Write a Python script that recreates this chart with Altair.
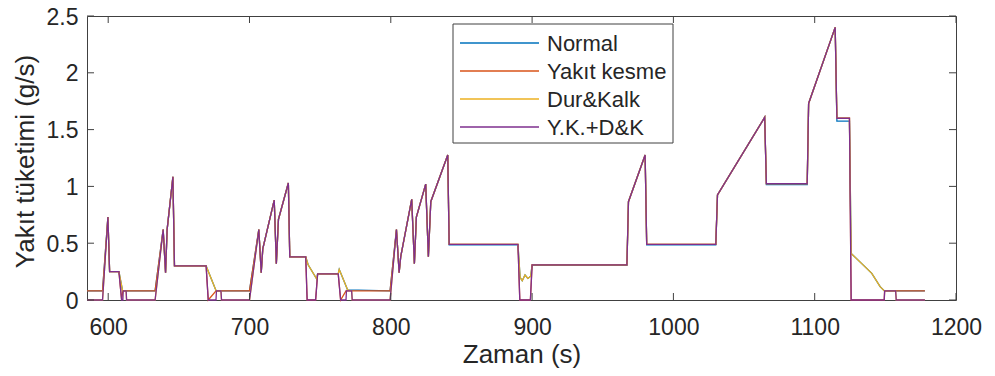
import altair as alt
import pandas as pd

names = ["Normal", "Yakıt kesme", "Dur&Kalk", "Y.K.+D&K"]
colors = ["#0072BD", "#D95319", "#EDB120", "#7E2F8E"]
x_ticks = [600, 700, 800, 900, 1000, 1100, 1200]
y_ticks = [0, 0.5, 1, 1.5, 2, 2.5]

# Normal
t_normal = [585, 596, 599.8, 601, 607.6, 610.2, 633.2, 638.9, 640.6, 641.7, 645.8, 646.9, 669.3, 676.4,
            700, 706.6, 708.3, 709.4, 717.5, 719.0, 720.5, 727.5, 728.5, 739.8, 741.5, 747.8, 748.2, 762.8,
            763.5, 769.4, 799.5, 804, 805.9, 807, 814.8, 816.7, 818.1, 824.7, 826.6, 828.3, 840.3, 841.3,
            890, 891.5, 893, 895, 897, 899, 900, 967.1, 968.2, 980, 981.1, 1030, 1031.2, 1064.6, 1065.8,
            1094.7, 1095.7, 1114.5, 1115.7, 1124.6, 1125.8, 1133.3, 1140.4, 1146.3, 1149.3, 1178]
v_normal = [0.08, 0.08, 0.73, 0.25, 0.25, 0.08, 0.08, 0.62, 0.24, 0.62, 1.085, 0.30, 0.30, 0.08,
            0.08, 0.62, 0.24, 0.45, 0.88, 0.32, 0.71, 1.03, 0.38, 0.38, 0.31, 0.18, 0.23, 0.23,
            0.27, 0.09, 0.08, 0.62, 0.24, 0.38, 0.886, 0.32, 0.73, 1.02, 0.38, 0.865, 1.276, 0.485,
            0.485, 0.20, 0.17, 0.22, 0.19, 0.21, 0.305, 0.305, 0.865, 1.276, 0.485, 0.485, 0.924, 1.608, 1.015,
            1.015, 1.73, 2.40, 1.575, 1.575, 0.41, 0.32, 0.235, 0.117, 0.08, 0.08]

# Yakıt kesme
t_yk = [585, 596, 599.8, 601, 607.6, 609.5, 610.4, 633.2, 638.9, 640.6, 641.7, 645.8, 646.9, 669.3,
        670.8, 676.3, 700, 706.6, 708.3, 709.4, 717.5, 719.0, 720.5, 727.5, 728.5, 739.8, 740.8, 746.8,
        748.2, 762.8, 764.5, 768.3, 799.5, 804, 805.9, 807, 814.8, 816.7, 818.1, 824.7, 826.6, 828.3,
        840.3, 841.3, 890, 891.3, 898.8, 900, 967.1, 968.2, 980, 981.1, 1030, 1031.2, 1064.6, 1065.8,
        1094.7, 1095.7, 1114.5, 1115.7, 1124.6, 1125.8, 1149.2, 1149.5, 1178]
v_yk = [0.08, 0.08, 0.73, 0.25, 0.25, 0, 0.08, 0.08, 0.62, 0.24, 0.62, 1.085, 0.30, 0.30,
        0, 0.08, 0.08, 0.62, 0.24, 0.45, 0.88, 0.32, 0.71, 1.03, 0.38, 0.38, 0, 0,
        0.23, 0.23, 0, 0.08, 0.08, 0.62, 0.24, 0.38, 0.886, 0.32, 0.73, 1.02, 0.38, 0.865,
        1.276, 0.49, 0.49, 0, 0, 0.31, 0.31, 0.865, 1.276, 0.49, 0.49, 0.924, 1.608, 1.025,
        1.025, 1.73, 2.40, 1.60, 1.60, 0, 0, 0.08, 0.08]

# Dur&Kalk
t_dk = [585, 596, 599.8, 601, 607.6, 610.2, 612.7, 613, 633.2, 638.9, 640.6, 641.7, 645.8, 646.9,
        669.3, 676.4, 679.8, 680.2, 700, 706.6, 708.3, 709.4, 717.5, 719.0, 720.5, 727.5, 728.5, 739.8,
        741.5, 747.8, 748.2, 762.8, 763.5, 769.4, 772.3, 772.7, 799.5, 804, 805.9, 807, 814.8, 816.7,
        818.1, 824.7, 826.6, 828.3, 840.3, 841.3, 890, 891.5, 893, 895, 897, 899, 900, 967.1,
        968.2, 980, 981.1, 1030, 1031.2, 1064.6, 1065.8, 1094.7, 1095.7, 1114.5, 1115.7, 1124.6, 1125.8,
        1133.3, 1140.4, 1146.3, 1149.3, 1157.3, 1157.7, 1178]
v_dk = [0, 0, 0.73, 0.25, 0.25, 0.08, 0.08, 0, 0, 0.62, 0.24, 0.62, 1.085, 0.30,
        0.30, 0.08, 0.08, 0, 0, 0.62, 0.24, 0.45, 0.88, 0.32, 0.71, 1.03, 0.38, 0.38,
        0.31, 0.18, 0.23, 0.23, 0.27, 0.09, 0.08, 0, 0, 0.62, 0.24, 0.38, 0.886, 0.32,
        0.73, 1.02, 0.38, 0.865, 1.276, 0.49, 0.49, 0.20, 0.17, 0.22, 0.19, 0.21, 0.31, 0.31,
        0.865, 1.276, 0.49, 0.49, 0.924, 1.608, 1.025, 1.025, 1.73, 2.40, 1.60, 1.60, 0.41,
        0.32, 0.235, 0.117, 0.08, 0.08, 0, 0]

# Y.K.+D&K
t_ykdk = [585, 596, 599.8, 601, 607.6, 609.5, 610.4, 610.6, 612.7, 613, 633.2, 638.9, 640.6, 641.7,
          645.8, 646.9, 669.3, 670.8, 676.3, 676.6, 679.8, 680.2, 700, 706.6, 708.3, 709.4, 717.5, 719.0,
          720.5, 727.5, 728.5, 739.8, 740.8, 746.8, 748.2, 762.8, 764.5, 768.3, 768.6, 772.3, 772.7, 799.5,
          804, 805.9, 807, 814.8, 816.7, 818.1, 824.7, 826.6, 828.3, 840.3, 841.3, 890, 891.3, 898.8,
          900, 967.1, 968.2, 980, 981.1, 1030, 1031.2, 1064.6, 1065.8, 1094.7, 1095.7, 1114.5, 1115.7,
          1124.6, 1125.8, 1149.2, 1149.5, 1157.3, 1157.7, 1178]
v_ykdk = [0, 0, 0.73, 0.25, 0.25, 0, 0, 0.08, 0.08, 0, 0, 0.62, 0.24, 0.62,
          1.085, 0.30, 0.30, 0, 0, 0.08, 0.08, 0, 0, 0.62, 0.24, 0.45, 0.88, 0.32,
          0.71, 1.03, 0.38, 0.38, 0, 0, 0.23, 0.23, 0, 0, 0.08, 0.08, 0, 0,
          0.62, 0.24, 0.38, 0.886, 0.32, 0.73, 1.02, 0.38, 0.865, 1.276, 0.49, 0.49, 0, 0,
          0.31, 0.31, 0.865, 1.276, 0.49, 0.49, 0.924, 1.608, 1.025, 1.025, 1.73, 2.40, 1.60,
          1.60, 0, 0, 0.08, 0.08, 0, 0]

series_t = [t_normal, t_yk, t_dk, t_ykdk]
series_v = [v_normal, v_yk, v_dk, v_ykdk]

W, H = 869, 284
FONT = "Liberation Sans"
TXT = "#262626"
FRAME = "#404040"

xs = alt.Scale(domain=[585, 1200], nice=False, zero=False)
ys = alt.Scale(domain=[0, 2.5], nice=False)

x_axis = alt.Axis(
    values=x_ticks, format="d", domain=False, ticks=False, grid=False, labelFlush=False,
    labelFont=FONT, labelFontSize=23, labelColor=TXT, labelBaseline="alphabetic", labelPadding=34,
    title="Zaman (s)", titleFont=FONT, titleFontSize=26, titleFontWeight="normal", titleColor=TXT,
    titleY=62, titleBaseline="alphabetic")
y_axis = alt.Axis(
    values=y_ticks, format="~g", domain=False, ticks=False, grid=False, labelFlush=False,
    labelFont=FONT, labelFontSize=23, labelColor=TXT, labelPadding=9, labelOffset=1,
    title="Yakıt tüketimi (g/s)", titleFont=FONT, titleFontSize=26, titleFontWeight="normal",
    titleColor=TXT, titleX=-54, titleY=145, titleBaseline="alphabetic")

x_enc = alt.X("t:Q", scale=xs, axis=x_axis)
y_enc = alt.Y("v:Q", scale=ys, axis=y_axis)

layers = []
for name, col, t, v in zip(names, colors, series_t, series_v):
    df = pd.DataFrame({"t": t, "v": v, "series": name})
    layers.append(alt.Chart(df).mark_line(color=col, strokeWidth=1.3).encode(x=x_enc, y=y_enc))

# inward ticks (MATLAB box style)
xt = pd.DataFrame({"t": x_ticks})
yt = pd.DataFrame({"v": y_ticks})
layers.append(alt.Chart(xt).mark_rule(color=FRAME, strokeWidth=1).encode(x=x_enc, y=alt.value(H), y2=alt.value(H - 7)))
layers.append(alt.Chart(xt).mark_rule(color=FRAME, strokeWidth=1).encode(x=x_enc, y=alt.value(0), y2=alt.value(7)))
layers.append(alt.Chart(yt).mark_rule(color=FRAME, strokeWidth=1).encode(y=y_enc, x=alt.value(0), x2=alt.value(7)))
layers.append(alt.Chart(yt).mark_rule(color=FRAME, strokeWidth=1).encode(y=y_enc, x=alt.value(W), x2=alt.value(W - 7)))

# legend
one = alt.Data(values=[{"k": 1}])
layers.append(alt.Chart(one).mark_rect(fill="white", stroke=FRAME, strokeWidth=1).encode(
    x=alt.value(366), x2=alt.value(586), y=alt.value(8), y2=alt.value(127)))
for i, (name, col) in enumerate(zip(names, colors)):
    ry = 27 + 28 * i
    layers.append(alt.Chart(one).mark_rule(color=col, strokeWidth=1.3).encode(
        x=alt.value(373), x2=alt.value(452), y=alt.value(ry)))
    layers.append(alt.Chart(one).mark_text(text=name, font=FONT, fontSize=22, color=TXT,
                                           align="left", baseline="middle").encode(
        x=alt.value(460), y=alt.value(ry + 1)))

chart = alt.layer(*layers).properties(
    width=W, height=H,
    autosize=alt.AutoSizeParams(type="none"),
    padding={"left": 79, "top": 8, "right": 30, "bottom": 68},
).configure_view(stroke=FRAME, strokeWidth=1)

chart.save("out.html", embed_options={"renderer": "svg", "actions": False})
